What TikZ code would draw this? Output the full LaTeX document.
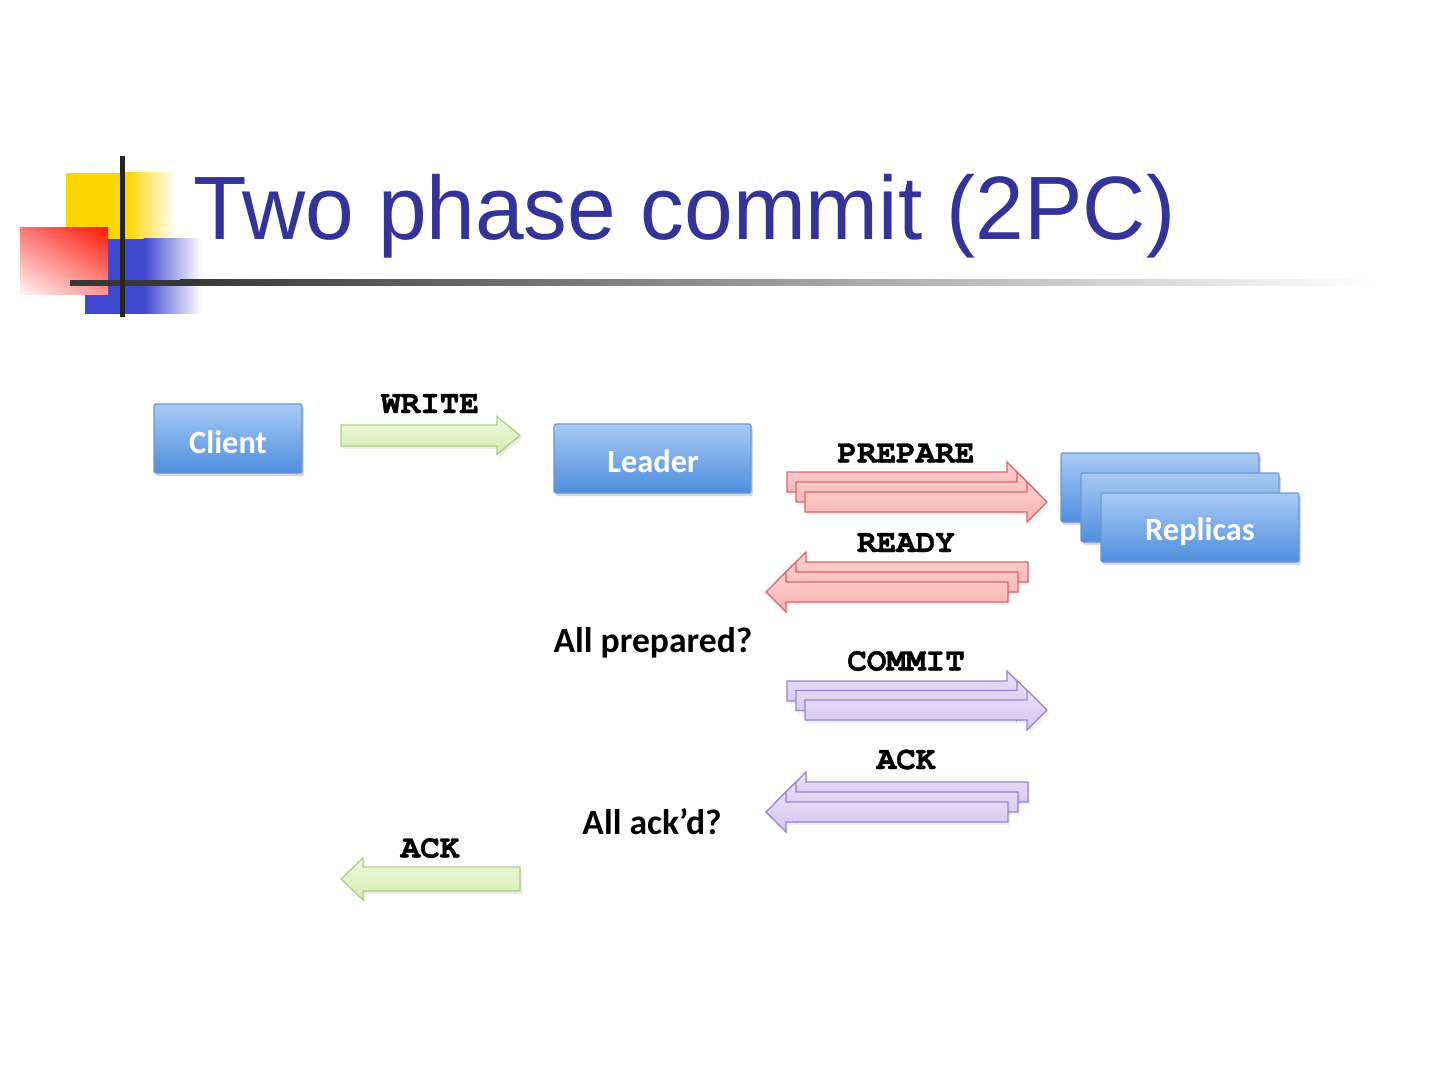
\documentclass[tikz,border=0pt]{standalone}
\usepackage{fontspec}
\setmainfont{Liberation Sans}
\newfontfamily\calibri{Carlito}
\newfontfamily\courier[FakeBold=1.2]{TeX Gyre Cursor Bold}
\usetikzlibrary{shadows,shadings}
\definecolor{titleblue}{RGB}{51,51,153}
\definecolor{logoyellow}{RGB}{255,213,0}
\definecolor{logoblue}{RGB}{64,72,208}
\definecolor{linegray}{RGB}{55,55,55}
\definecolor{redUR}{RGB}{255,25,5}
\definecolor{redUL}{RGB}{252,120,120}
\definecolor{redLL}{RGB}{255,245,245}
\definecolor{redLR}{RGB}{255,150,150}
\definecolor{boxtop}{RGB}{168,202,244}
\definecolor{boxbot}{RGB}{78,142,222}
\definecolor{boxedge}{RGB}{105,152,212}
\definecolor{gtop}{RGB}{240,249,224}
\definecolor{gbot}{RGB}{212,236,176}
\definecolor{gedge}{RGB}{168,206,128}
\definecolor{rtop}{RGB}{252,210,210}
\definecolor{rbot}{RGB}{246,176,176}
\definecolor{redge}{RGB}{214,104,104}
\definecolor{ptop}{RGB}{232,224,248}
\definecolor{pbot}{RGB}{212,198,238}
\definecolor{pedge}{RGB}{152,132,200}
\newcommand{\rarr}[4]{%
  \path[#4] (#1,{#2-\sh}) -- ({#3-\hl},{#2-\sh}) -- ({#3-\hl},{#2-\hh}) -- (#3,#2)
    -- ({#3-\hl},{#2+\hh}) -- ({#3-\hl},{#2+\sh}) -- (#1,{#2+\sh}) -- cycle;}
\newcommand{\larr}[4]{%
  \path[#4] (#3,{#2-\sh}) -- ({#1+\hl},{#2-\sh}) -- ({#1+\hl},{#2-\hh}) -- (#1,#2)
    -- ({#1+\hl},{#2+\hh}) -- ({#1+\hl},{#2+\sh}) -- (#3,{#2+\sh}) -- cycle;}
\begin{document}
\begin{tikzpicture}[x=0.5pt,y=-0.5pt,
  bluebox/.style={draw=boxedge, line width=0.6pt, top color=boxtop, bottom color=boxbot,
    rounded corners=1pt, inner sep=0pt,
    drop shadow={opacity=0.3, shadow xshift=1pt, shadow yshift=-1.5pt}},
  boxlabel/.style={text=white, font=\calibri\bfseries\fontsize{16.2pt}{18pt}\selectfont, anchor=base, inner sep=0pt},
  msg/.style={font=\courier\fontsize{16.3pt}{18pt}\selectfont, inner sep=0pt},
  note/.style={font=\calibri\bfseries\fontsize{17.8pt}{20pt}\selectfont, anchor=base, inner sep=0pt},
  greenarrow/.style={draw=gedge, line width=0.6pt, top color=gtop, bottom color=gbot,
    drop shadow={opacity=0.15, shadow xshift=1pt, shadow yshift=-1.5pt}},
  redarrow/.style={draw=redge, line width=0.6pt, top color=rtop, bottom color=rbot,
    drop shadow={opacity=0.12, shadow xshift=1pt, shadow yshift=-1.5pt}},
  purplearrow/.style={draw=pedge, line width=0.6pt, top color=ptop, bottom color=pbot,
    drop shadow={opacity=0.12, shadow xshift=1pt, shadow yshift=-1.5pt}}
]
\useasboundingbox (0,0) rectangle (1440,1080);
\fill[white] (0,0) rectangle (1440,1080);

% logo
\fill[logoyellow] (66,173) rectangle (126,239);
\shade[left color=logoyellow, right color=white] (125.5,173) rectangle (176,239);
\fill[logoblue] (85,239) rectangle (144,314);
\shade[left color=logoblue, right color=white] (143.5,239) rectangle (201,314);
\shade[upper right=redUR, upper left=redUL, lower left=redLL, lower right=redLR]
  (20,228) rectangle (108,295);
\fill[linegray] (70,280) rectangle (181,286);
\shade[left color=linegray, right color=white] (180,280) rectangle (1372,286);
\fill[black!85] (120,156) rectangle (124.5,317);

% title
\node[anchor=base west, inner sep=0pt, text=titleblue, font=\fontsize{45pt}{50pt}\selectfont]
  (title) at (193,240) {\scalebox{0.972}[1]{Two phase commit (2PC)}};

% boxes
\node[bluebox, minimum width=74pt, minimum height=34.5pt] (client) at (228,438.5) {};
\node[boxlabel] (clientl) at (228,453) {Client};
\node[bluebox, minimum width=98.5pt, minimum height=34.5pt] (leader) at (652.5,458.5) {};
\node[boxlabel] (leaderl) at (653,473) {Leader};
\node[bluebox, minimum width=99pt, minimum height=34.5pt] (rep1) at (1160,487.5) {};
\node[bluebox, minimum width=99pt, minimum height=34.5pt] (rep2) at (1180,507.5) {};
\node[bluebox, minimum width=99pt, minimum height=34.5pt] (rep3) at (1200,527.5) {};
\node[boxlabel] (repl) at (1200,540) {Replicas};

% green arrows
\def\sh{10.5}\def\hh{19}\def\hl{23}
\rarr{341}{435.5}{520}{greenarrow}
\def\sh{12}\def\hh{21}\def\hl{22}
\larr{341}{879}{520}{greenarrow}
\node[msg] (write) at (430,403.5) {WRITE};
\node[msg] (ackc) at (430,848) {ACK};

% red arrows
\def\sh{10}\def\hh{20}\def\hl{20}
\rarr{787}{482}{1027}{redarrow}
\rarr{796}{492}{1037}{redarrow}
\rarr{805}{502}{1047}{redarrow}
\larr{786}{572}{1028}{redarrow}
\larr{776}{582}{1018}{redarrow}
\larr{766}{592}{1008}{redarrow}
\node[msg] (prepare) at (906,453) {PREPARE};
\node[msg] (ready) at (906,542.5) {READY};

% purple arrows
\rarr{787}{691}{1027}{purplearrow}
\rarr{796}{700.5}{1037}{purplearrow}
\rarr{805}{710}{1047}{purplearrow}
\larr{786}{792}{1028}{purplearrow}
\larr{776}{802}{1018}{purplearrow}
\larr{766}{812}{1008}{purplearrow}
\node[msg] (commit) at (906,661) {COMMIT};
\node[msg] (ackr) at (906,759.5) {ACK};

% notes
\node[note] (allprep) at (653,652) {All prepared?};
\node[note] (allack) at (652,834) {All ack’d?};
\end{tikzpicture}
\end{document}
